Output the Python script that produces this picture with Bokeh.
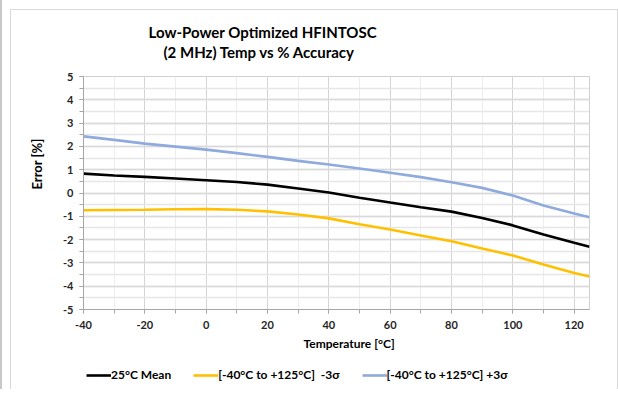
from bokeh.plotting import figure
from bokeh.layouts import column
from bokeh.models import Legend, LegendItem, Title, FixedTicker, Range1d
from bokeh.embed import file_html
from bokeh.resources import INLINE

temps = [-40, -30, -20, -10, 0, 10, 20, 30, 40, 50, 60, 70, 80, 90, 100, 110, 120, 125]
mean_25c = [0.83, 0.75, 0.69, 0.62, 0.55, 0.47, 0.36, 0.19, 0.02, -0.20, -0.41, -0.61, -0.80, -1.07, -1.39, -1.78, -2.14, -2.31]
minus_3s = [-0.74, -0.73, -0.72, -0.70, -0.69, -0.72, -0.79, -0.92, -1.09, -1.34, -1.57, -1.82, -2.07, -2.38, -2.68, -3.07, -3.43, -3.58]
plus_3s = [2.43, 2.28, 2.12, 1.99, 1.86, 1.71, 1.55, 1.38, 1.22, 1.05, 0.87, 0.68, 0.46, 0.22, -0.11, -0.54, -0.88, -1.04]

x_ticks = [-40, -20, 0, 20, 40, 60, 80, 100, 120]
y_ticks = [-5, -4, -3, -2, -1, 0, 1, 2, 3, 4, 5]

title_line1 = "Low-Power Optimized HFINTOSC"
title_line2 = "(2 MHz) Temp vs % Accuracy"
x_label = "Temperature [°C]"
y_label = "Error [%]"
series_names = ["25°C Mean", "[-40°C to +125°C]  -3σ", "[-40°C to +125°C] +3σ"]
series_colors = ["#000000", "#FFC000", "#8FAADC"]

FONT = "Lato"

p = figure(
    frame_width=506, frame_height=233,
    x_range=Range1d(-40, 125), y_range=Range1d(-5, 5),
    output_backend="svg", toolbar_location=None,
    min_border=0,
    background_fill_color="white", border_fill_color="white",
)
p.outline_line_color = "#d0d0d0"

# axes
for ax in (p.xaxis[0], p.yaxis[0]):
    ax.axis_line_color = "#a6a6a6"
    ax.major_tick_line_color = "#a6a6a6"
    ax.minor_tick_line_color = "#a6a6a6"
    ax.major_tick_in = 0
    ax.major_tick_out = 4
    ax.minor_tick_in = 0
    ax.minor_tick_out = 4
    ax.major_label_text_font = FONT
    ax.major_label_text_font_style = "bold"
    ax.major_label_text_font_size = "11px"
    ax.major_label_text_color = "#262626"

p.xaxis[0].ticker = FixedTicker(ticks=x_ticks, minor_ticks=list(range(-40, 126, 10)))
p.yaxis[0].ticker = FixedTicker(ticks=y_ticks, minor_ticks=[v / 2 for v in range(-10, 11)])
p.xaxis[0].major_label_overrides = {t: str(t) for t in x_ticks}
p.yaxis[0].major_label_overrides = {t: str(t) for t in y_ticks}
p.xaxis[0].major_label_standoff = 7
p.yaxis[0].major_label_standoff = 6

# grid
p.xgrid.grid_line_color = "#d4d4d4"
p.ygrid.grid_line_color = "#d9d9d9"
p.xgrid.minor_grid_line_color = "#ededed"
p.ygrid.minor_grid_line_color = "#e6e6e6"
p.ygrid.grid_line_width = 1.5
p.ygrid.minor_grid_line_width = 1.5

series = [mean_25c, minus_3s, plus_3s]
for ys, c in zip(series, series_colors):
    p.line(temps, ys, line_color=c, line_width=2.6)

# titles above: spacer, second line, first line, top spacer (stacked outward)
p.add_layout(Title(text=" ", text_font_size="2px", standoff=12), "above")
t2 = Title(text=title_line2, align="left", offset=80, text_font=FONT, text_font_style="bold",
           text_font_size="15px", text_color="#000000", standoff=0)
t1 = Title(text=title_line1, align="left", offset=65, text_font=FONT, text_font_style="bold",
           text_font_size="15px", text_color="#000000", standoff=0)
p.add_layout(t2, "above")
p.add_layout(t1, "above")
p.add_layout(Title(text=" ", text_font_size="2px", standoff=6), "above")

# axis titles
xt = Title(text=x_label, align="left", offset=220, text_font=FONT, text_font_style="bold",
           text_font_size="12px", text_color="#000000", standoff=4)
p.add_layout(xt, "below")
yt = Title(text=y_label, align="left", offset=120, text_font=FONT, text_font_style="bold",
           text_font_size="13px", text_color="#000000", standoff=31)
p.add_layout(yt, "left")
p.add_layout(Title(text=" ", text_font_size="2px", standoff=24), "right")

# legend strip below the chart: same series, drawn outside this strip's visible range
p2 = figure(
    width=605, height=37, x_axis_type=None, y_axis_type=None,
    x_range=Range1d(-40, 125), y_range=Range1d(10, 11),
    output_backend="svg", toolbar_location=None,
    min_border_left=72, min_border_right=27, min_border_top=0, min_border_bottom=0,
    background_fill_color="white", border_fill_color="white",
)
p2.outline_line_color = None
legend_renderers = [p2.line(temps, ys, line_color=c, line_width=2.6)
                    for ys, c in zip(series, series_colors)]
legend = Legend(
    items=[LegendItem(label=n, renderers=[r]) for n, r in zip(series_names, legend_renderers)],
    orientation="horizontal", location=(3, 7),
    label_text_font=FONT, label_text_font_style="bold", label_text_font_size="12px",
    label_text_color="#000000",
    glyph_width=25, glyph_height=14, label_standoff=0, spacing=22,
    padding=4, margin=0, border_line_color=None, background_fill_alpha=0,
)
p2.add_layout(legend, "center")

chart = column(p, p2, spacing=0,
               styles={"margin-left": "8px", "margin-top": "9px",
                       "border-left": "1px solid #d9d9d9", "border-top": "1px solid #d9d9d9",
                       "border-right": "1px solid #d9d9d9"})
page = column(chart, styles={"border-left": "2px solid #c8c8c8"})

open("out.html", "w").write(file_html(page, INLINE))
